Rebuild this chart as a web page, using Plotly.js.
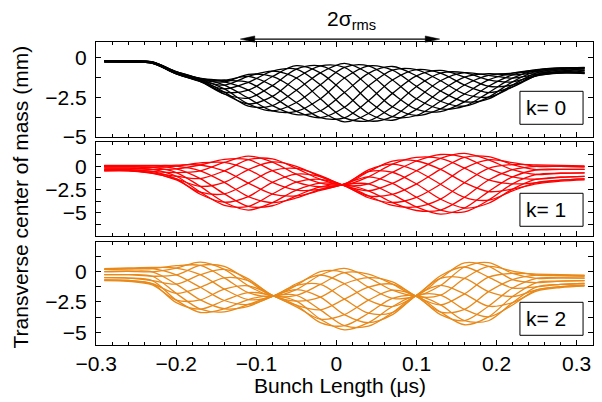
<!DOCTYPE html>
<html>
<head>
<meta charset="utf-8">
<script src="https://cdn.plot.ly/plotly-3.0.1.min.js"></script>
<style>html,body{margin:0;padding:0;background:#fff}#chart{width:602px;height:402px}</style>
</head>
<body>
<div id="chart"></div>
<script>
// Bunch position (µs) at which each turn's centroid was sampled
const bunchLength = [-0.29,-0.26,-0.23,-0.20,-0.17,-0.14,-0.11,-0.08,-0.05,-0.02,0.01,0.04,0.07,0.10,0.13,0.16,0.19,0.22,0.25,0.28,0.31];

// k = 0 : transverse centre of mass (mm), one row per turn
const k0Turns = [
 [-0.18,-0.2,-0.3,-1.0,-1.5,-2.17,-2.05,-1.18,-0.5,-0.95,-2.2,-3.52,-3.95,-3.26,-2.1,-1.22,-1.0,-1.08,-0.95,-0.92,-1.0],
 [-0.19,-0.22,-0.33,-1.02,-1.49,-1.97,-1.55,-0.84,-0.71,-1.71,-3.13,-3.99,-3.72,-2.59,-1.45,-0.94,-1.11,-1.28,-1.05,-0.96,-0.97],
 [-0.2,-0.24,-0.34,-1.02,-1.45,-1.73,-1.18,-0.84,-1.28,-2.59,-3.8,-3.99,-3.1,-1.81,-0.97,-0.94,-1.4,-1.52,-1.12,-0.96,-0.9],
 [-0.22,-0.26,-0.35,-1.0,-1.4,-1.53,-1.05,-1.18,-2.05,-3.35,-4.05,-3.52,-2.25,-1.14,-0.8,-1.22,-1.8,-1.72,-1.15,-0.92,-0.8],
 [-0.24,-0.27,-0.34,-0.97,-1.35,-1.42,-1.18,-1.76,-2.83,-3.79,-3.8,-2.72,-1.4,-0.75,-0.97,-1.72,-2.2,-1.84,-1.12,-0.84,-0.7],
 [-0.25,-0.27,-0.33,-0.93,-1.31,-1.42,-1.55,-2.44,-3.39,-3.79,-3.13,-1.78,-0.78,-0.75,-1.45,-2.29,-2.49,-1.84,-1.05,-0.76,-0.63],
 [-0.26,-0.26,-0.3,-0.9,-1.3,-1.53,-2.05,-3.02,-3.6,-3.35,-2.2,-0.98,-0.55,-1.14,-2.1,-2.78,-2.6,-1.72,-0.95,-0.68,-0.6],
 [-0.25,-0.24,-0.28,-0.88,-1.31,-1.73,-2.55,-3.36,-3.39,-2.59,-1.28,-0.51,-0.78,-1.81,-2.75,-3.06,-2.49,-1.52,-0.85,-0.64,-0.63],
 [-0.24,-0.22,-0.26,-0.88,-1.35,-1.97,-2.92,-3.36,-2.83,-1.71,-0.6,-0.51,-1.4,-2.59,-3.23,-3.06,-2.2,-1.28,-0.78,-0.64,-0.7],
 [-0.22,-0.2,-0.25,-0.9,-1.4,-2.17,-3.05,-3.02,-2.05,-0.95,-0.35,-0.98,-2.25,-3.26,-3.4,-2.78,-1.8,-1.08,-0.75,-0.68,-0.8],
 [-0.2,-0.19,-0.26,-0.93,-1.45,-2.29,-2.92,-2.44,-1.28,-0.51,-0.6,-1.78,-3.1,-3.65,-3.23,-2.29,-1.4,-0.97,-0.78,-0.76,-0.9],
 [-0.19,-0.19,-0.28,-0.97,-1.49,-2.29,-2.55,-1.76,-0.71,-0.51,-1.28,-2.72,-3.72,-3.65,-2.75,-1.72,-1.11,-0.97,-0.85,-0.84,-0.97]
];

// k = 1
const k1Turns = [
 [-0.35,-0.34,-0.55,-0.67,-0.48,0.42,1.1,0.46,-0.85,-1.8,-1.95,-0.58,0.55,0.57,-0.33,-1.76,-2.72,-2.45,-1.9,-1.6,-1.45],
 [-0.2,-0.2,-0.33,-0.27,0.14,0.75,0.71,-0.46,-1.7,-2.2,-1.91,-0.38,0.23,-0.48,-1.93,-3.33,-3.64,-2.65,-1.76,-1.49,-1.35],
 [-0.05,-0.06,-0.12,0.02,0.36,0.42,-0.35,-1.72,-2.55,-2.49,-1.9,-0.58,-0.64,-1.9,-3.53,-4.48,-3.97,-2.45,-1.39,-1.18,-1.08],
 [0.06,0.05,0.04,0.13,0.14,-0.49,-1.8,-2.98,-3.17,-2.6,-1.91,-1.13,-1.83,-3.33,-4.7,-4.9,-3.64,-1.89,-0.88,-0.75,-0.7],
 [0.1,0.1,0.1,0.02,-0.48,-1.72,-3.25,-3.9,-3.4,-2.49,-1.95,-1.88,-3.02,-4.37,-5.13,-4.48,-2.72,-1.13,-0.37,-0.33,-0.33],
 [0.06,0.06,0.04,-0.27,-1.32,-2.96,-4.31,-4.24,-3.17,-2.2,-2.0,-2.63,-3.89,-4.75,-4.7,-3.33,-1.47,-0.37,0.0,-0.01,-0.05],
 [-0.05,-0.04,-0.12,-0.67,-2.16,-3.86,-4.7,-3.9,-2.55,-1.8,-2.05,-3.18,-4.21,-4.37,-3.53,-1.76,-0.22,0.19,0.14,0.1,0.05],
 [-0.2,-0.2,-0.33,-1.07,-2.78,-4.19,-4.31,-2.98,-1.7,-1.4,-2.09,-3.38,-3.89,-3.33,-1.93,-0.19,0.7,0.39,0.0,-0.01,-0.05],
 [-0.35,-0.36,-0.55,-1.36,-3.0,-3.86,-3.25,-1.72,-0.85,-1.11,-2.1,-3.18,-3.02,-1.9,-0.33,0.96,1.03,0.19,-0.37,-0.33,-0.33],
 [-0.46,-0.46,-0.7,-1.47,-2.78,-2.96,-1.8,-0.46,-0.23,-1.0,-2.09,-2.63,-1.83,-0.48,0.84,1.38,0.7,-0.37,-0.88,-0.75,-0.7],
 [-0.5,-0.5,-0.76,-1.36,-2.16,-1.72,-0.35,0.46,0.0,-1.11,-2.05,-1.88,-0.64,0.57,1.27,0.96,-0.22,-1.13,-1.39,-1.18,-1.08],
 [-0.46,-0.45,-0.7,-1.07,-1.32,-0.49,0.71,0.8,-0.23,-1.4,-2.0,-1.13,0.23,0.95,0.84,-0.19,-1.47,-1.89,-1.76,-1.49,-1.35]
];

// k = 2
const k2Turns = [
 [-0.5,-0.53,-0.74,-1.03,-0.25,0.18,-0.6,-1.96,-2.43,-2.1,-1.0,-0.49,-0.85,-2.04,-2.74,-1.83,-0.45,-0.14,-0.2,-0.25,-0.3],
 [-0.25,-0.25,-0.38,-0.27,0.51,0.43,-0.75,-1.98,-1.95,-1.05,-0.08,-0.2,-1.03,-2.03,-1.94,-0.56,0.43,0.05,-0.29,-0.32,-0.36],
 [0.0,0.03,-0.02,0.29,0.79,0.18,-1.17,-2.0,-1.48,-0.28,0.26,-0.49,-1.53,-2.0,-1.14,0.38,0.75,-0.14,-0.55,-0.52,-0.53],
 [0.18,0.23,0.24,0.49,0.51,-0.51,-1.73,-2.03,-1.13,0.0,-0.08,-1.28,-2.2,-1.98,-0.55,0.72,0.43,-0.65,-0.9,-0.78,-0.75],
 [0.25,0.3,0.34,0.29,-0.25,-1.44,-2.3,-2.04,-1.0,-0.28,-1.0,-2.35,-2.88,-1.96,-0.34,0.38,-0.45,-1.35,-1.25,-1.05,-0.98],
 [0.18,0.23,0.24,-0.27,-1.29,-2.38,-2.71,-2.05,-1.13,-1.05,-2.27,-3.43,-3.37,-1.95,-0.55,-0.56,-1.65,-2.05,-1.51,-1.24,-1.14],
 [0.0,0.03,-0.02,-1.03,-2.33,-3.06,-2.86,-2.04,-1.48,-2.1,-3.54,-4.21,-3.55,-1.96,-1.14,-1.83,-2.85,-2.56,-1.6,-1.31,-1.2],
 [-0.25,-0.25,-0.38,-1.79,-3.09,-3.31,-2.71,-2.03,-1.95,-3.15,-4.46,-4.5,-3.37,-1.98,-1.94,-3.11,-3.73,-2.75,-1.51,-1.24,-1.14],
 [-0.5,-0.53,-0.74,-2.35,-3.37,-3.06,-2.3,-2.0,-2.43,-3.92,-4.8,-4.21,-2.88,-2.0,-2.74,-4.04,-4.05,-2.56,-1.25,-1.05,-0.98],
 [-0.68,-0.73,-1.0,-2.55,-3.09,-2.38,-1.73,-1.98,-2.77,-4.2,-4.46,-3.43,-2.2,-2.03,-3.33,-4.38,-3.73,-2.05,-0.9,-0.78,-0.75],
 [-0.75,-0.8,-1.1,-2.35,-2.33,-1.44,-1.17,-1.96,-2.9,-3.92,-3.54,-2.35,-1.53,-2.04,-3.54,-4.04,-2.85,-1.35,-0.55,-0.52,-0.53],
 [-0.68,-0.73,-1.0,-1.79,-1.29,-0.51,-0.75,-1.95,-2.77,-3.15,-2.27,-1.28,-1.03,-2.05,-3.33,-3.11,-1.65,-0.65,-0.29,-0.32,-0.36]
];

const panelLabels = ['k= 0', 'k= 1', 'k= 2'];
const panelColors = ['#000000', '#ff0000', '#e8891a'];
const xTickVals = [-0.3,-0.2,-0.1,0,0.1,0.2,0.3];
const xTickText = ['\u22120.3','\u22120.2','\u22120.1','0','0.1','0.2','0.3'];
const yTickVals = [-5,-2.5,0];
const yTickText = ['\u22125','\u22122.5','0'];
const sigmaLabel = '2\u03c3<sub>rms</sub>';
const sigmaSpan = [-0.12, 0.129];   // bunch-length extent of the 2σ arrow (µs)

const FONT = 'Liberation Sans, Arial, Helvetica, sans-serif';
const FS = 21;

// panel order top -> bottom : k0 on (x3,y3), k1 on (x2,y2), k2 on (x,y)
const panels = [
  {turns: k0Turns, xa: 'x3', ya: 'y3'},
  {turns: k1Turns, xa: 'x2', ya: 'y2'},
  {turns: k2Turns, xa: 'x',  ya: 'y'}
];

const traces = [];
panels.forEach((p, i) => {
  p.turns.forEach(row => {
    traces.push({
      x: bunchLength, y: row, xaxis: p.xa, yaxis: p.ya,
      type: 'scatter', mode: 'lines',
      line: {color: panelColors[i], width: 1.3, shape: 'spline', smoothing: 0.9},
      hoverinfo: 'skip', showlegend: false
    });
  });
});

function xAxis(anchor, labels) {
  return {
    anchor: anchor, range: [-0.3003, 0.3205], autorange: false,
    tickmode: 'array', tickvals: xTickVals, ticktext: xTickText,
    showticklabels: labels, ticks: 'inside', ticklen: 5, tickwidth: 1, tickcolor: '#000',
    minor: {dtick: 0.02, tick0: 0, ticks: 'inside', ticklen: 3, tickwidth: 1, tickcolor: '#000', showgrid: false},
    showline: true, linecolor: '#000', linewidth: 1, mirror: 'ticks',
    showgrid: false, zeroline: false,
    tickfont: {family: FONT, size: FS, color: '#000'}, ticklabelstandoff: 0
  };
}
function yAxis(anchor, domain, range) {
  return {
    anchor: anchor, domain: domain, range: range, autorange: false,
    tickmode: 'array', tickvals: yTickVals, ticktext: yTickText,
    ticks: 'inside', ticklen: 5, tickwidth: 1, tickcolor: '#000',
    minor: {dtick: 1.25, tick0: 0, ticks: 'inside', ticklen: 5, tickwidth: 1, tickcolor: '#000', showgrid: false},
    showline: true, linecolor: '#000', linewidth: 1, mirror: 'ticks',
    showgrid: false, zeroline: false,
    tickfont: {family: FONT, size: FS, color: '#000'}, ticklabelstandoff: 4
  };
}

const boxes = [[0.7284, 0.8373], [0.3918, 0.5007], [0.0320, 0.1409]];
const shapes = boxes.map(b => ({
  type: 'rect', xref: 'paper', yref: 'paper', x0: 0.853, x1: 0.980, y0: b[0], y1: b[1],
  line: {color: '#000', width: 1}, fillcolor: '#fff', layer: 'above'
}));

// 2σ_rms double arrow above the top panel (drawn in the top panel's x coordinates)
const arrowY = 1.0095, headL = 0.018, headW = 0.0105;
shapes.push({
  type: 'line', xref: 'x3', yref: 'paper',
  x0: sigmaSpan[0] + 0.01, x1: sigmaSpan[1] - 0.01, y0: arrowY, y1: arrowY,
  line: {color: '#000', width: 1.4}
});
shapes.push({
  type: 'path', xref: 'x3', yref: 'paper',
  path: `M ${sigmaSpan[0]} ${arrowY} L ${sigmaSpan[0] + headL} ${arrowY + headW} L ${sigmaSpan[0] + headL} ${arrowY - headW} Z`,
  fillcolor: '#000', line: {color: '#000', width: 0.5}
});
shapes.push({
  type: 'path', xref: 'x3', yref: 'paper',
  path: `M ${sigmaSpan[1]} ${arrowY} L ${sigmaSpan[1] - headL} ${arrowY + headW} L ${sigmaSpan[1] - headL} ${arrowY - headW} Z`,
  fillcolor: '#000', line: {color: '#000', width: 0.5}
});

const annotations = boxes.map((b, i) => ({
  xref: 'paper', yref: 'paper', x: 0.862, y: (b[0] + b[1]) / 2,
  xanchor: 'left', yanchor: 'middle', text: panelLabels[i], showarrow: false,
  font: {family: FONT, size: FS, color: '#000'}
}));
annotations.push({
  xref: 'paper', yref: 'paper', x: 0.515, y: 1.072, xanchor: 'center', yanchor: 'middle',
  text: sigmaLabel, showarrow: false, font: {family: FONT, size: FS, color: '#000'}
});
annotations.push({
  xref: 'paper', yref: 'paper', x: -0.151, y: 0.49, xanchor: 'center', yanchor: 'middle',
  textangle: -90, text: 'Transverse center of mass (mm)', showarrow: false,
  font: {family: FONT, size: FS, color: '#000'}
});
annotations.push({
  xref: 'paper', yref: 'paper', x: 0.49, y: -0.135, xanchor: 'center', yanchor: 'middle',
  text: 'Bunch Length (\u03bcs)', showarrow: false,
  font: {family: FONT, size: FS, color: '#000'}
});

const layout = {
  width: 602, height: 402,
  margin: {l: 96, r: 9, t: 42, b: 57, pad: 0},
  paper_bgcolor: '#fff', plot_bgcolor: '#fff',
  font: {family: FONT, size: FS, color: '#000'},
  showlegend: false,
  xaxis: xAxis('y', true),
  xaxis2: xAxis('y2', false),
  xaxis3: xAxis('y3', false),
  yaxis: yAxis('x', [0, 0.339], [-6.05, 2.42]),
  yaxis2: yAxis('x2', [0.361, 0.669], [-7.45, 2.58]),
  yaxis3: yAxis('x3', [0.687, 1.0], [-5, 1.0]),
  shapes: shapes,
  annotations: annotations
};

Plotly.newPlot('chart', traces, layout, {staticPlot: true, displayModeBar: false});
</script>
</body>
</html>
